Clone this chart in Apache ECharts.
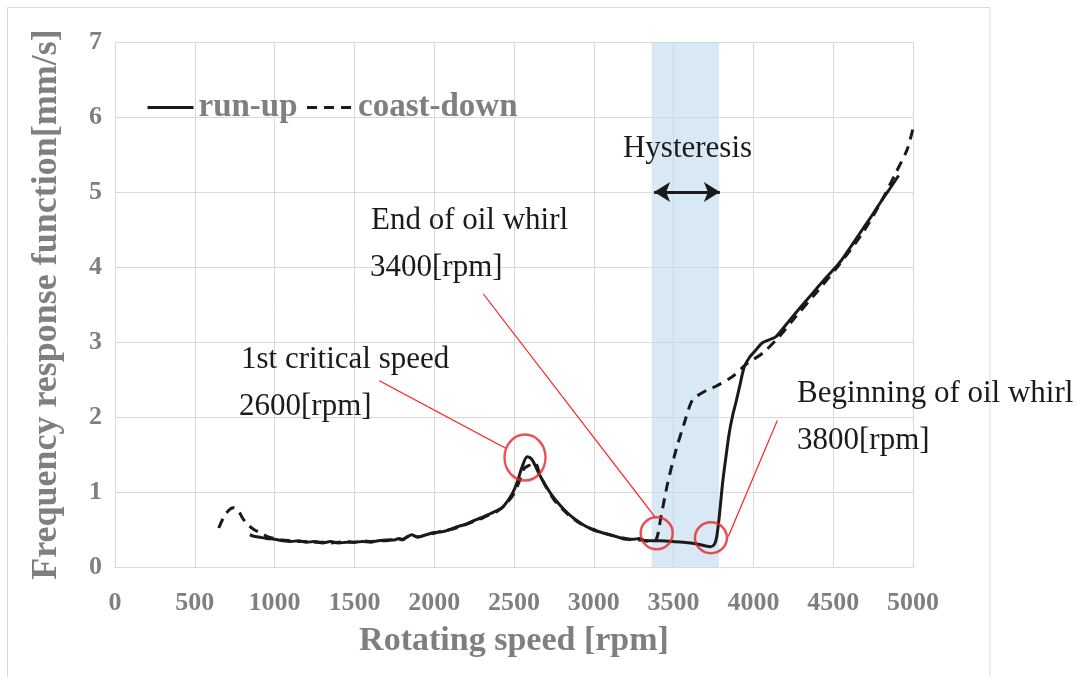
<!DOCTYPE html>
<html><head><meta charset="utf-8">
<script src="https://cdn.jsdelivr.net/npm/echarts@6/dist/echarts.min.js"></script>
<style>html,body{margin:0;padding:0;background:#fff}#c{width:1081px;height:677px}</style>
</head><body><div id="c"></div>
<script>
// ---- data ----
const runupRpm = [845,870,900,950,1000,1050,1100,1150,1200,1250,1300,1350,1400,1450,1500,1550,1600,1650,1700,1750,1780,1800,1830,1860,1880,1900,1950,2000,2050,2100,2150,2200,2250,2300,2350,2400,2430,2460,2490,2520,2550,2583,2610,2640,2660,2700,2743,2790,2826,2880,2952,3000,3035,3100,3150,3202,3250,3285,3320,3369,3420,3494,3560,3640,3700,3730,3755,3769,3786,3807,3828,3849,3870,3890,3915,3943,3974,4010,4057,4100,4141,4200,4266,4330,4391,4460,4537,4610,4683,4750,4808,4860,4910];
const runupVal = [0.43,0.41,0.40,0.38,0.37,0.35,0.34,0.35,0.33,0.34,0.32,0.34,0.32,0.33,0.33,0.34,0.33,0.35,0.36,0.36,0.38,0.36,0.40,0.43,0.41,0.40,0.43,0.46,0.47,0.50,0.54,0.57,0.62,0.66,0.71,0.76,0.80,0.88,0.98,1.13,1.33,1.47,1.44,1.32,1.23,1.08,0.94,0.82,0.74,0.64,0.54,0.50,0.47,0.43,0.40,0.37,0.37,0.38,0.35,0.35,0.35,0.34,0.33,0.31,0.28,0.27,0.30,0.39,0.67,1.12,1.47,1.79,2.02,2.19,2.42,2.67,2.79,2.88,2.99,3.03,3.07,3.22,3.39,3.55,3.70,3.87,4.05,4.27,4.50,4.71,4.90,5.06,5.22];

const coastRpm = [650,680,710,740,770,800,830,870,925,960,1000,1050,1100,1150,1200,1250,1300,1350,1400,1450,1500,1550,1600,1650,1700,1750,1800,1850,1900,1950,2000,2050,2100,2150,2200,2250,2300,2350,2400,2450,2500,2540,2563,2600,2632,2660,2700,2750,2800,2850,2900,2950,3000,3050,3100,3150,3200,3250,3300,3350,3390,3421,3463,3515,3567,3609,3640,3661,3710,3765,3869,3953,4057,4161,4266,4391,4537,4683,4808,4891,4964,5000];
const coastVal = [0.52,0.66,0.75,0.79,0.76,0.65,0.57,0.50,0.44,0.40,0.38,0.36,0.35,0.34,0.34,0.33,0.33,0.32,0.33,0.34,0.33,0.35,0.34,0.35,0.35,0.37,0.37,0.42,0.40,0.43,0.45,0.48,0.50,0.53,0.57,0.61,0.65,0.70,0.75,0.84,0.98,1.18,1.31,1.36,1.39,1.25,1.07,0.90,0.78,0.68,0.60,0.54,0.49,0.46,0.43,0.40,0.38,0.36,0.36,0.34,0.36,0.67,1.12,1.56,1.92,2.19,2.27,2.30,2.36,2.41,2.54,2.70,2.85,3.07,3.34,3.65,4.03,4.45,4.90,5.25,5.57,5.85];

const hysteresisRange = [3363, 3784];
const hysteresisArrow = [3378, 3790];
const hysteresisArrowY = 5.0;

// annotation circles: [rpm, value, width, height]
const circles = [[2569, 1.46, 41, 46], [3394, 0.45, 32, 32], [3734, 0.39, 32, 31]];
// pointer lines: [[rpm1, v1], [rpm2, v2]]
const pointers = [
  [[1656, 2.484], [2445, 1.587]],
  [[2308, 3.64], [3383, 0.667]],
  [[4150, 1.955], [3843, 0.408]]
];

const xTickMin = 0, xTickMax = 5000, xTickStep = 500;
const yTickMin = 0, yTickMax = 7, yTickStep = 1;

const serif = "'Liberation Serif','Times New Roman',serif";
const gray = '#7f7f7f';
const grid = '#d9d9d9';

const chart = echarts.init(document.getElementById('c'), null, {renderer: 'canvas'});

function txt(text, x, y, align) {
  return {type: 'text', x: x, y: y, silent: true, z: 100,
    style: {text: text, font: '31px ' + serif, fill: '#1a1a1a', align: align || 'left', verticalAlign: 'middle'}};
}

const option = {
  backgroundColor: '#fff',
  animation: false,
  grid: {left: 115, right: 168, top: 42, bottom: 110, containLabel: false},
  legend: {
    data: ['run-up', 'coast-down'],
    left: 141, top: 86,
    itemWidth: 46, itemHeight: 2, itemGap: 8,
    lineStyle: {width: 3},
    textStyle: {fontFamily: serif, fontWeight: 'bold', fontSize: 33, color: gray}
  },
  xAxis: {
    type: 'value', min: xTickMin, max: xTickMax, interval: xTickStep,
    name: 'Rotating speed [rpm]', nameLocation: 'middle', nameGap: 57,
    nameTextStyle: {fontFamily: serif, fontWeight: 'bold', fontSize: 34, color: gray},
    axisLine: {show: true, lineStyle: {color: grid, width: 1}},
    axisTick: {show: false},
    axisLabel: {fontFamily: serif, fontWeight: 'bold', fontSize: 26, color: gray, margin: 23,
      formatter: v => String(v)},
    splitLine: {show: true, lineStyle: {color: grid, width: 1}}
  },
  yAxis: {
    type: 'value', min: yTickMin, max: yTickMax, interval: yTickStep,
    name: 'Frequency response function[mm/s]', nameLocation: 'middle', nameGap: 50,
    nameTextStyle: {fontFamily: serif, fontWeight: 'bold', fontSize: 36, color: gray},
    axisLine: {show: true, lineStyle: {color: grid, width: 1}},
    axisTick: {show: false},
    axisLabel: {fontFamily: serif, fontWeight: 'bold', fontSize: 26, color: gray, margin: 13,
      formatter: v => String(v)},
    splitLine: {show: true, lineStyle: {color: grid, width: 1}}
  },
  series: [
    {
      name: 'band', type: 'line', data: [], silent: true, z: 1,
      markArea: {silent: true, itemStyle: {color: 'rgba(189,215,238,0.58)'},
        data: [[{xAxis: hysteresisRange[0]}, {xAxis: hysteresisRange[1]}]]}
    },
    {
      name: 'run-up', type: 'line', symbol: 'none', smooth: 0.3, z: 3,
      data: runupRpm.map((r, i) => [r, runupVal[i]]),
      lineStyle: {color: '#1a1a1a', width: 3}, itemStyle: {color: '#1a1a1a'}
    },
    {
      name: 'coast-down', type: 'line', symbol: 'none', smooth: 0.3, z: 3,
      data: coastRpm.map((r, i) => [r, coastVal[i]]),
      lineStyle: {color: '#1a1a1a', width: 3, type: [10, 7]}, itemStyle: {color: '#1a1a1a'}
    },
    {
      name: 'annot', type: 'scatter', z: 5, silent: true,
      data: circles.map(c => ({value: [c[0], c[1]], symbolSize: [c[2], c[3]]})),
      symbol: 'circle',
      itemStyle: {color: 'rgba(0,0,0,0)', borderColor: '#e3262b', borderWidth: 2.5},
      markLine: {
        silent: true, symbol: ['none', 'none'], animation: false,
        lineStyle: {color: '#ff1a1a', width: 1.2, type: 'solid'},
        label: {show: false},
        data: pointers.map(p => [{coord: p[0]}, {coord: p[1]}])
      }
    },
    {
      name: 'arrow', type: 'line', data: [], z: 6, silent: true,
      markLine: {
        silent: true, symbol: ['arrow', 'arrow'], symbolSize: [15, 16],
        lineStyle: {color: '#1a1a1a', width: 3, type: 'solid'},
        label: {show: false},
        data: [[{coord: [hysteresisArrow[0], hysteresisArrowY]}, {coord: [hysteresisArrow[1], hysteresisArrowY]}]]
      }
    }
  ],
  graphic: [
    {type: 'rect', silent: true, z: -10, shape: {x: 7.5, y: 7.5, width: 982.5, height: 700},
      style: {fill: 'none', stroke: grid, lineWidth: 1}},
    txt('Hysteresis', 687.5, 149, 'center'),
    txt('End of oil whirl', 371, 220.5),
    txt('3400[rpm]', 370, 267.5),
    txt('1st critical speed', 241, 360),
    txt('2600[rpm]', 239, 406.5),
    txt('Beginning of oil whirl', 797, 394),
    txt('3800[rpm]', 797, 440.5)
  ]
};
chart.setOption(option);
</script>
</body></html>
